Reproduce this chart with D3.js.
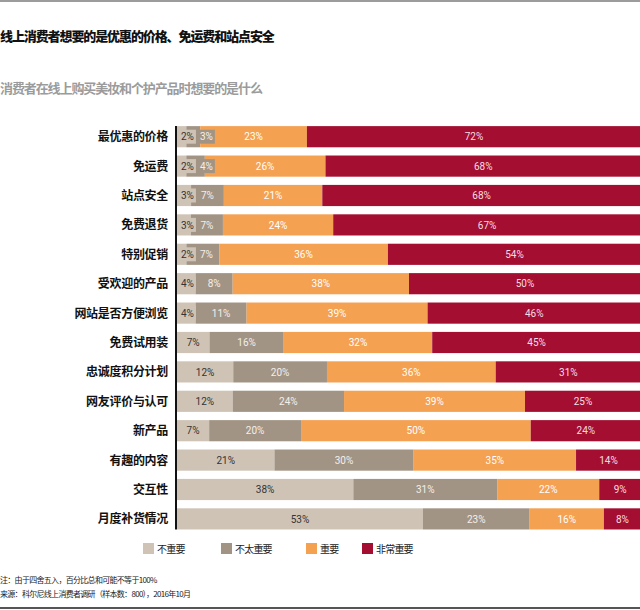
<!DOCTYPE html>
<html>
<head>
<meta charset="utf-8">
<script src="https://cdn.jsdelivr.net/npm/d3@7"></script>
<style>
  body { margin: 0; background: #fff; }
  svg { display: block; }
</style>
</head>
<body>
<div id="container"></div>
<script>
// data (percent, rounded as printed)
const categories = ['最优惠的价格', '免运费', '站点安全', '免费退货', '特别促销', '受欢迎的产品', '网站是否方便浏览',
  '免费试用装', '忠诚度积分计划', '网友评价与认可', '新产品', '有趣的内容', '交互性', '月度补货情况']
const seriesNames = ['不重要', '不太重要', '重要', '非常重要']
const notImportant = [2, 2, 3, 3, 2, 4, 4, 7, 12, 12, 7, 21, 38, 53]
const lessImportant = [3, 4, 7, 7, 7, 8, 11, 16, 20, 24, 20, 30, 31, 23]
const important = [23, 26, 21, 24, 36, 38, 39, 32, 36, 39, 50, 35, 22, 16]
const veryImportant = [72, 68, 68, 67, 54, 50, 46, 45, 31, 25, 24, 14, 9, 8]

const title = '线上消费者想要的是优惠的价格、免运费和站点安全'
const subtitle = '消费者在线上购买美妆和个护产品时想要的是什么'
const notes = ['注：由于四舍五入，百分比总和可能不等于100%', '来源：科尔尼线上消费者调研（样本数：800），2016年10月']

let width = 640,
  height = 610

const colors = ['#cfc3b5', '#a29485', '#f4a152', '#a30e31']
const labelColors = ['#333', '#f3efea', '#fff', '#f7dde2']
const cjk = "'Noto Sans CJK SC', sans-serif"
const num = "Roboto, 'Liberation Sans', sans-serif"

// build rows for the stack
const rows = categories.map((c, i) => ({
  cat: c,
  [seriesNames[0]]: notImportant[i],
  [seriesNames[1]]: lessImportant[i],
  [seriesNames[2]]: important[i],
  [seriesNames[3]]: veryImportant[i]
}))

// each row fills the whole width, the printed numbers don't always add to 100
const stacked = d3.stack().keys(seriesNames).offset(d3.stackOffsetExpand)(rows)

let x = d3.scaleLinear().domain([0, 1]).range([177, 641])
let y = d3.scaleBand().domain(categories).range([122, 533.6]).paddingInner(0.28).paddingOuter(0.14)

let svg = d3.select('#container')
  .append('svg')
  .attr('width', width)
  .attr('height', height)

// frame lines top and bottom
svg.append('line').attr('x1', 0).attr('x2', width).attr('y1', 1).attr('y2', 1)
  .attr('stroke', '#9c9c9c').attr('stroke-width', 2)
svg.append('line').attr('x1', 0).attr('x2', width).attr('y1', 608).attr('y2', 608)
  .attr('stroke', '#555').attr('stroke-width', 2)

svg.append('text').attr('x', 0).attr('y', 41)
  .style('font-family', cjk).style('font-weight', 900).style('font-size', '13px')
  .style('letter-spacing', '-1.1px').attr('fill', '#111')
  .text(title)

svg.append('text').attr('x', 0).attr('y', 93)
  .style('font-family', cjk).style('font-weight', 700).style('font-size', '13px')
  .style('letter-spacing', '-1.1px').attr('fill', '#9b9b9b')
  .text(subtitle)

// bars
let layers = svg.append('g').selectAll('g')
  .data(stacked)
  .join('g')
  .attr('fill', (d, i) => colors[i])

layers.selectAll('rect')
  .data(d => d)
  .join('rect')
  .attr('x', d => x(d[0]))
  .attr('y', d => y(d.data.cat))
  .attr('width', d => x(d[1]) - x(d[0]))
  .attr('height', y.bandwidth())

// value labels with a small box in the segment colour, pushed right if they would overlap
let labels = svg.append('g')
rows.forEach((row, ri) => {
  let prevRight = x(0)
  stacked.forEach((layer, si) => {
    let seg = layer[ri]
    let cy = y(row.cat) + y.bandwidth() / 2
    let g = labels.append('g')
    let box = g.append('rect').attr('fill', colors[si])
    let t = g.append('text')
      .attr('y', cy)
      .attr('dy', '0.36em')
      .attr('text-anchor', 'middle')
      .style('font-family', num)
      .style('font-size', '10px')
      .attr('fill', labelColors[si])
      .text(row[seriesNames[si]] + '%')
    let w = t.node().getComputedTextLength() + 4
    let left = Math.max((x(seg[0]) + x(seg[1])) / 2 - w / 2, prevRight + 2)
    t.attr('x', left + w / 2)
    box.attr('x', left).attr('y', cy - 7).attr('width', w).attr('height', 14)
    prevRight = left + w
  })
})

// category labels and the vertical axis line
svg.append('g').selectAll('text')
  .data(categories)
  .join('text')
  .attr('x', 168)
  .attr('y', d => y(d) + y.bandwidth() / 2)
  .attr('dy', '0.38em')
  .attr('text-anchor', 'end')
  .style('font-family', cjk).style('font-weight', 700).style('font-size', '12px')
  .style('letter-spacing', '-0.3px')
  .attr('fill', '#111')
  .text(d => d)

svg.append('line')
  .attr('x1', 176).attr('x2', 176)
  .attr('y1', y(categories[0])).attr('y2', y(categories[categories.length - 1]) + y.bandwidth())
  .attr('stroke', '#111').attr('stroke-width', 2)

// legend
const legendX = [143, 221, 306, 362]
let legend = svg.append('g').selectAll('g')
  .data(seriesNames)
  .join('g')
  .attr('transform', (d, i) => `translate(${legendX[i]},543)`)
legend.append('rect').attr('width', 11).attr('height', 11).attr('fill', (d, i) => colors[i])
legend.append('text').attr('x', 14).attr('y', 10)
  .style('font-family', cjk).style('font-size', '10px').style('letter-spacing', '-0.8px')
  .attr('fill', '#222')
  .text(d => d)

// footnotes
svg.append('g').selectAll('text')
  .data(notes)
  .join('text')
  .attr('x', 0)
  .attr('y', (d, i) => 583 + i * 14)
  .style('font-family', cjk).style('font-size', '8px').style('letter-spacing', '-0.7px')
  .attr('fill', '#222')
  .text(d => d)
</script>
</body>
</html>
